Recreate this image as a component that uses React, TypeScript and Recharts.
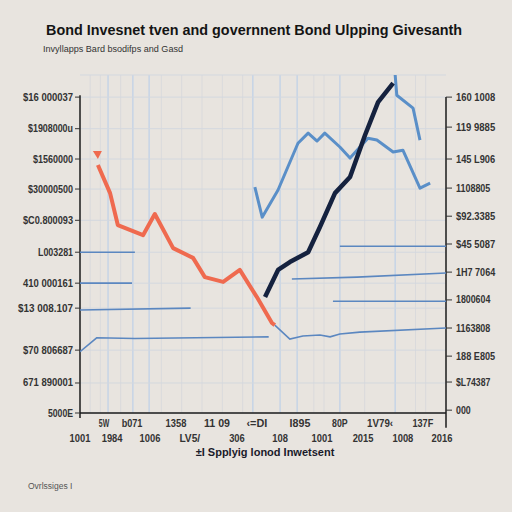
import React from 'react';
import { LineChart, Line, XAxis, YAxis, CartesianGrid, ReferenceLine } from 'recharts';

const title = 'Bond Invesnet tven  and governnent Bond Ulpping Givesanth';
const subtitle = 'Invyllapps Bard bsodifps and Gasd';
const xAxisTitle = '±I Spplyig lonod Inwetsent';
const footnote = 'Ovrlssiges I';

// left axis ticks (value -> label)
const leftTicks = [0, 0.95, 1.99, 3.32, 4.11, 5.09, 6.1, 7.09, 8.04, 9, 10];
const leftLabels = ['5000E', '671 890001', '$70 806687', '$13 008.107', '410 000161', 'L003281', '$C0.800093', '$30000500', '$1560000', '$1908000u', '$16 000037'];

// right axis ticks
const rightTicks = [0.09, 0.98, 1.8, 2.69, 3.58, 4.46, 5.35, 6.23, 7.12, 8.04, 9.05, 10];
const rightLabels = ['000', '$L74387', '188 E805', '1163808', '1800604', '1H7 7064', '$45 5087', '$92.3385', '1108805', '145 L906', '119 9885', '160 1008'];

// bottom axis, two rows of labels
const xRowA = [0.59, 1.28, 2.36, 3.37, 4.35, 5.41, 6.39, 7.38, 8.43];
const xRowALabels = ['5W', 'b071', '1358', '11 09', '‹=DI', 'I895', '80P', '1V79‹', '137F'];
const xRowB = [0, 0.79, 1.72, 2.7, 3.86, 4.92, 5.95, 6.96, 7.94, 8.9];
const xRowBLabels = ['1001', '1984', '1006', 'LV5/', '306', '108', '1001', '2015', '1008', '2016'];

const gridFaintX = [0.25, 0.5, 1, 2, 2.5, 3, 3.5, 4, 5.75, 6, 7, 8.25, 8.5];
const gridBlueX = [0.69, 1.3, 1.7, 4.25, 4.92, 5.34, 6.39, 7.75];

// series
const orangeX = [0.44, 0.74, 0.93, 1.55, 1.84, 2.29, 2.78, 3.07, 3.52, 3.93, 4.35, 4.72, 4.79];
const orangeY = [7.85, 6.96, 5.95, 5.63, 6.3, 5.22, 4.91, 4.3, 4.15, 4.53, 3.67, 2.85, 2.78];

const navyX = [4.55, 4.87, 5.16, 5.61, 5.9, 6.27, 6.64, 7.01, 7.33, 7.7];
const navyY = [3.67, 4.53, 4.78, 5.09, 5.89, 6.96, 7.47, 8.8, 9.84, 10.44];

const blueX = [4.3, 4.48, 4.87, 5.36, 5.61, 5.83, 6.02, 6.39, 6.64, 7.08, 7.3, 7.7, 7.94, 8.36, 8.61];
const blueY = [7.15, 6.2, 7.06, 8.54, 8.86, 8.61, 8.86, 8.42, 8.07, 8.7, 8.64, 8.26, 8.32, 7.12, 7.28];

const blueTopX = [7.75, 7.79, 8.19, 8.36];
const blueTopY = [10.7, 10.06, 9.65, 8.64];

const thinAX = [0, 1.35];
const thinAY = [5.09, 5.09];
const thinBX = [0, 1.28];
const thinBY = [4.11, 4.11];
const thinCX = [0, 2.72];
const thinCY = [3.26, 3.32];
const thinDX = [0, 0.41, 1.35, 4.64];
const thinDY = [1.94, 2.38, 2.36, 2.41];
const thinEX = [4.79, 5.16, 5.48, 5.9, 6.15, 6.39, 6.88, 9];
const thinEY = [2.78, 2.34, 2.44, 2.47, 2.41, 2.5, 2.56, 2.69];
const thinFX = [5.21, 6.81, 9];
const thinFY = [4.24, 4.3, 4.43];
const thinGX = [6.22, 9];
const thinGY = [3.54, 3.54];
const thinHX = [6.39, 9];
const thinHY = [5.28, 5.28];

const pts = (xs: number[], ys: number[]) => xs.map((x, i) => ({ x, y: ys[i] }));

const tickFont = '"Liberation Sans", Arial, sans-serif';

const XTick = (props: any) => {
  const { x, y, payload } = props;
  const a = xRowA.indexOf(payload.value);
  const b = xRowB.indexOf(payload.value);
  const label = a >= 0 ? xRowALabels[a] : xRowBLabels[b];
  const dy = a >= 0 ? 12 : 27;
  return (
    <text x={x} y={y + dy} textAnchor="middle" fontSize={10} fontWeight={600} fill="#333" fontFamily={tickFont}
      textLength={label.length * 5.2} lengthAdjust="spacingAndGlyphs">
      {label}
    </text>
  );
};

const LeftTick = (props: any) => {
  const { x, y, payload } = props;
  const label = leftLabels[leftTicks.indexOf(payload.value)] ?? '';
  return (
    <text x={x} y={y + 3.5} textAnchor="end" fontSize={10} fontWeight={600} fill="#333" fontFamily={tickFont}
      textLength={label.length * 5} lengthAdjust="spacingAndGlyphs">
      {label}
    </text>
  );
};

const RightTick = (props: any) => {
  const { x, y, payload } = props;
  const label = rightLabels[rightTicks.indexOf(payload.value)] ?? '';
  return (
    <text x={x} y={y + 3.5} textAnchor="start" fontSize={10} fontWeight={600} fill="#333" fontFamily={tickFont}
      textLength={label.length * 4.9} lengthAdjust="spacingAndGlyphs">
      {label}
    </text>
  );
};

const ArrowDot = (props: any) => {
  const { cx, cy, index } = props;
  if (index !== 0) return <g key={`d${index}`} />;
  return (
    <path key="arrow" d={`M${cx - 5},${cy - 14} L${cx + 4},${cy - 14} L${cx},${cy - 6} Z`} fill="#ef6a4f" />
  );
};

const genX = (list: number[]) => ({ xAxis, offset }: any) =>
  list.map(v => (typeof xAxis?.scale === 'function' ? xAxis.scale(v) : offset.left + (v / 9) * offset.width));

const App: React.FC = () => {
  const thin = [
    pts(thinAX, thinAY), pts(thinBX, thinBY), pts(thinCX, thinCY), pts(thinDX, thinDY),
    pts(thinEX, thinEY), pts(thinFX, thinFY), pts(thinGX, thinGY), pts(thinHX, thinHY),
  ];
  return (
    <div style={{ position: 'absolute', left: 0, top: 0, width: 512, height: 512, background: '#e8e4df', overflow: 'hidden' }}>
      <svg width={512} height={70} style={{ position: 'absolute', left: 0, top: 0 }}>
        <text x={46} y={35} fontSize={15.5} fontWeight={700} fill="#141414" fontFamily="'Liberation Sans', Arial, sans-serif"
          textLength={416} lengthAdjust="spacingAndGlyphs">{title}</text>
        <text x={43} y={52} fontSize={9} fill="#333" fontFamily="'Liberation Sans', Arial, sans-serif"
          textLength={140} lengthAdjust="spacingAndGlyphs">{subtitle}</text>
      </svg>
      <div style={{ position: 'absolute', left: 0, top: 0 }}>
        <LineChart width={512} height={512} margin={{ top: 75, right: 6, bottom: 59, left: 8 }}>
          <CartesianGrid xAxisId="x" yAxisId="left" horizontal={false} stroke="#dadadc" strokeWidth={1}
            verticalCoordinatesGenerator={genX(gridFaintX)} />
          <CartesianGrid xAxisId="x" yAxisId="left" horizontal={false} stroke="#c6d4e6" strokeWidth={1.5}
            verticalCoordinatesGenerator={genX(gridBlueX)} />
          <CartesianGrid xAxisId="x" yAxisId="left" vertical={false} stroke="#d3d8df" strokeWidth={1} />
          <XAxis xAxisId="x" dataKey="x" type="number" domain={[0, 9]} ticks={[...xRowB, ...xRowA].sort((p, q) => p - q)}
            interval={0} tick={<XTick />} tickLine={false} tickSize={0} height={40}
            axisLine={{ stroke: '#1b1b1b', strokeWidth: 1.5 }} allowDataOverflow />
          <YAxis yAxisId="left" type="number" domain={[0, 10.7]} ticks={leftTicks} interval={0} width={72}
            allowDataOverflow axisLine={false} tickLine={{ stroke: '#333' }} tickSize={5} tickMargin={2}
            tick={<LeftTick />} />
          <YAxis yAxisId="right" orientation="right" type="number" domain={[0, 10.7]} ticks={rightTicks} interval={0}
            width={60} allowDataOverflow axisLine={false} tickLine={{ stroke: '#333' }} tickSize={6} tickMargin={4}
            tick={<RightTick />} />
          <ReferenceLine xAxisId="x" yAxisId="left" ifOverflow="visible" stroke="#1b1b1b" strokeWidth={1.5}
            segment={[{ x: 0, y: -0.16 }, { x: 0, y: 10.06 }]} />
          <ReferenceLine xAxisId="x" yAxisId="left" ifOverflow="visible" stroke="#1b1b1b" strokeWidth={1.5}
            segment={[{ x: 9, y: -0.47 }, { x: 9, y: 10 }]} />
          {thin.map((d, i) => (
            <Line key={`t${i}`} xAxisId="x" yAxisId="left" data={d} dataKey="y" type="linear" stroke="#5b87c0"
              strokeWidth={1.6} dot={false} activeDot={false} isAnimationActive={false} />
          ))}
          <Line xAxisId="x" yAxisId="left" data={pts(blueX, blueY)} dataKey="y" type="linear" stroke="#5a8fc8"
            strokeWidth={3} dot={false} activeDot={false} isAnimationActive={false} strokeLinejoin="round" />
          <Line xAxisId="x" yAxisId="left" data={pts(blueTopX, blueTopY)} dataKey="y" type="linear" stroke="#5a8fc8"
            strokeWidth={3} dot={false} activeDot={false} isAnimationActive={false} strokeLinejoin="round" />
          <Line xAxisId="x" yAxisId="left" data={pts(orangeX, orangeY)} dataKey="y" type="linear" stroke="#ef6a4f"
            strokeWidth={4} dot={<ArrowDot />} activeDot={false} isAnimationActive={false} strokeLinejoin="round" />
          <Line xAxisId="x" yAxisId="left" data={pts(navyX, navyY)} dataKey="y" type="linear" stroke="#15223f"
            strokeWidth={4.5} dot={false} activeDot={false} isAnimationActive={false} strokeLinejoin="round" />
        </LineChart>
      </div>
      <svg width={512} height={512} style={{ position: 'absolute', left: 0, top: 0, pointerEvents: 'none' }}>
        <text x={265} y={456} textAnchor="middle" fontSize={11} fontWeight={700} fill="#1a1a2a"
          fontFamily="'Liberation Sans', Arial, sans-serif">{xAxisTitle}</text>
        <text x={28} y={489} fontSize={8.5} fill="#555" fontFamily="'Liberation Sans', Arial, sans-serif">{footnote}</text>
      </svg>
    </div>
  );
};

export default App;
